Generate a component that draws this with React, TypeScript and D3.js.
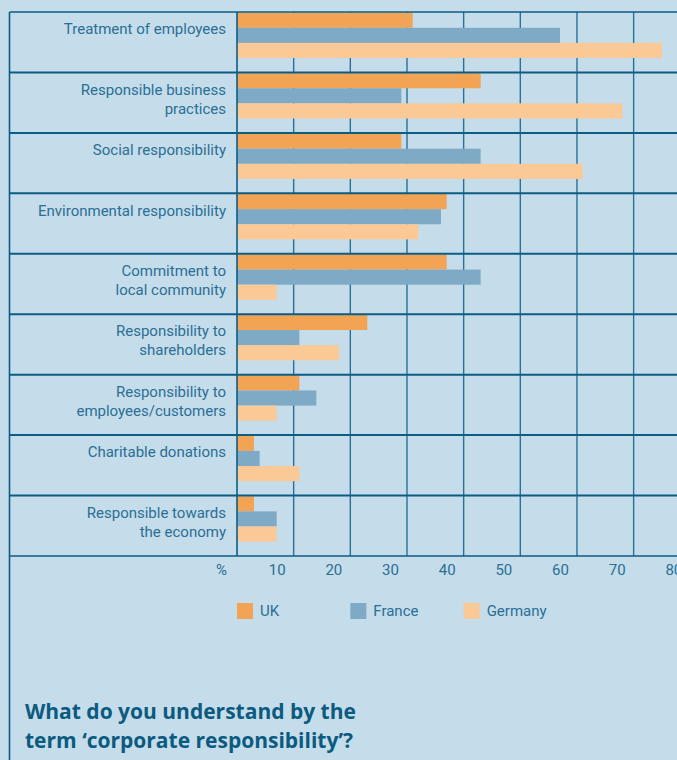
import React from 'react';
import * as d3 from 'd3';

const categories: string[] = [
  'Treatment of employees',
  'Responsible business\npractices',
  'Social responsibility',
  'Environmental responsibility',
  'Commitment to\nlocal community',
  'Responsibility to\nshareholders',
  'Responsibility to\nemployees/customers',
  'Charitable donations',
  'Responsible towards\nthe economy',
];
const seriesNames: string[] = ['UK', 'France', 'Germany'];
const ukValues: number[] = [31, 43, 29, 37, 37, 23, 11, 3, 3];
const franceValues: number[] = [57, 29, 43, 36, 43, 11, 14, 4, 7];
const germanyValues: number[] = [75, 68, 61, 32, 7, 18, 7, 11, 7];
const tickValues: number[] = [10, 20, 30, 40, 50, 60, 70, 80];
const gridValues: number[] = [0, 10, 20, 30, 40, 50, 60, 70, 80];
const legendAt: number[] = [0, 20, 40];
const titleLines: string[] = ['What do you understand by the', 'term \u2018corporate responsibility\u2019?'];

const W = 677;
const H = 760;
const BG = '#c5dcea';
const COLORS = ['#f2a354', '#7eaac6', '#fac995'];
const TEXT = '#2a6f94';
const DARK = '#0b5d84';
const FONT = 'Roboto, "Liberation Sans", Arial, sans-serif';

export default function App() {
  const frameLeft = 9.5;
  const plotLeft = 237;
  const top = 12;
  const bottom = 556;
  const x = d3.scaleLinear().domain([0, 80]).range([plotLeft, plotLeft + 453.3]);
  const y = d3
    .scaleBand<number>()
    .domain(categories.map((_, i) => i))
    .range([top, bottom])
    .padding(0);
  const bw = y.bandwidth();
  const inner = d3
    .scaleBand<string>()
    .domain(seriesNames)
    .range([0.7, 0.7 + bw * 0.75])
    .padding(0);
  const values = [ukValues, franceValues, germanyValues];

  return (
    <svg
      width={W}
      height={H}
      style={{ position: 'absolute', left: 0, top: 0, display: 'block' }}
      fontFamily={FONT}
    >
      <rect x={0} y={0} width={W} height={H} fill={BG} />
      {gridValues.slice(1).map((v) => (
        <line
          key={'g' + v}
          x1={x(v)}
          x2={x(v)}
          y1={top}
          y2={bottom}
          stroke="#2a7098"
          strokeWidth={1.4}
        />
      ))}
      {categories.map((c, i) =>
        seriesNames.map((s, k) => (
          <rect
            key={c + s}
            x={x(0)}
            y={(y(i) as number) + (inner(s) as number)}
            width={x(values[k][i]) - x(0)}
            height={inner.bandwidth()}
            fill={COLORS[k]}
          />
        ))
      )}
      {categories.map((c, i) => (
        <line
          key={'r' + i}
          x1={frameLeft}
          x2={W}
          y1={y(i) as number}
          y2={y(i) as number}
          stroke={DARK}
          strokeWidth={i === 0 ? 1.6 : 2}
        />
      ))}
      <line x1={frameLeft} x2={W} y1={bottom} y2={bottom} stroke={DARK} strokeWidth={1.6} />
      <line x1={plotLeft} x2={plotLeft} y1={top} y2={bottom} stroke={DARK} strokeWidth={1.6} />
      <line x1={frameLeft} x2={frameLeft} y1={top} y2={H} stroke={DARK} strokeWidth={1.6} />
      {categories.map((c, i) => (
        <text
          key={'l' + i}
          x={226}
          y={(y(i) as number) + 17}
          textAnchor="end"
          fill={TEXT}
          fontSize={15}
        >
          {c.split('\n').map((ln, j) => (
            <tspan key={j} x={226} y={(y(i) as number) + 17 + j * 19} dy="0.35em">
              {ln}
            </tspan>
          ))}
        </text>
      ))}
      <text x={x(0) - 10} y={570} dy="0.35em" textAnchor="end" fill={TEXT} fontSize={15}>
        %
      </text>
      {tickValues.map((v) => (
        <text key={'t' + v} x={x(v) - 8} y={570} dy="0.35em" textAnchor="end" fill={TEXT} fontSize={15}>
          {v}
        </text>
      ))}
      {seriesNames.map((s, k) => (
        <g key={'lg' + s}>
          <rect x={x(legendAt[k])} y={603} width={16} height={16} fill={COLORS[k]} />
          <text x={x(legendAt[k]) + 23} y={611} dy="0.35em" fill={TEXT} fontSize={15}>
            {s}
          </text>
        </g>
      ))}
      {titleLines.map((t, j) => (
        <text
          key={'tt' + j}
          x={25}
          y={712 + j * 29}
          dy="0.35em"
          fill="#0b5a80"
          fontSize={21}
          fontWeight="bold"
          fontFamily='"Open Sans", Roboto, sans-serif'
        >
          {t}
        </text>
      ))}
    </svg>
  );
}
